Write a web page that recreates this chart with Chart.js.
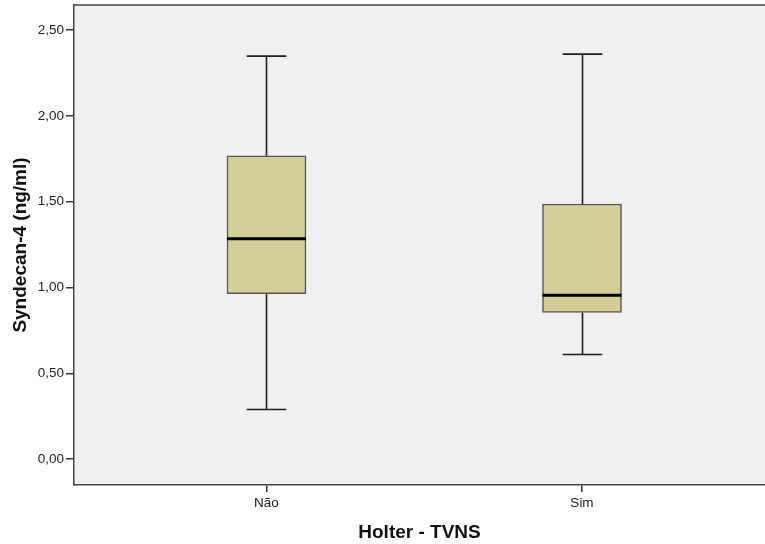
<!DOCTYPE html>
<html>
<head>
<meta charset="utf-8">
<script src="https://cdn.jsdelivr.net/npm/chart.js@4"></script>
<style>
  html, body { margin: 0; padding: 0; background: #ffffff; }
  #c { display: block; }
</style>
</head>
<body>
<canvas id="c" width="765" height="544"></canvas>
<script>
// ---- data ----
const categories = ['Não', 'Sim'];
const minVals    = [0.29, 0.61];
const q1Vals     = [0.965, 0.855];
const medianVals = [1.285, 0.955];
const q3Vals     = [1.768, 1.487];
const maxVals    = [2.348, 2.36];
const yTickVals  = [0, 0.5, 1, 1.5, 2, 2.5];
const xTitle = 'Holter - TVNS';
const yTitle = 'Syndecan-4 (ng/ml)';

const fontFam = "'Liberation Sans', Arial, sans-serif";

const boxPlugin = {
  id: 'boxExtras',
  beforeDraw(chart) {
    const { ctx, chartArea: a } = chart;
    ctx.save();
    ctx.fillStyle = '#f0f0f0';
    ctx.fillRect(a.left, a.top, a.right - a.left, a.bottom - a.top);
    ctx.restore();
  },
  beforeDatasetsDraw(chart) {
    const { ctx } = chart;
    const y = chart.scales.y;
    const meta = chart.getDatasetMeta(0);
    ctx.save();
    ctx.strokeStyle = '#1e1e1e';
    ctx.lineWidth = 1.6;
    meta.data.forEach((bar, i) => {
      const x = Math.round(bar.x) + 0.5;
      const cap = bar.width / 2;
      const yMax = y.getPixelForValue(maxVals[i]);
      const yQ3 = y.getPixelForValue(q3Vals[i]);
      const yQ1 = y.getPixelForValue(q1Vals[i]);
      const yMin = y.getPixelForValue(minVals[i]);
      ctx.beginPath();
      ctx.moveTo(x, yQ3); ctx.lineTo(x, yMax);
      ctx.moveTo(x - cap / 2, yMax); ctx.lineTo(x + cap / 2, yMax);
      ctx.moveTo(x, yQ1); ctx.lineTo(x, yMin);
      ctx.moveTo(x - cap / 2, yMin); ctx.lineTo(x + cap / 2, yMin);
      ctx.stroke();
    });
    ctx.restore();
  },
  afterDatasetsDraw(chart) {
    const { ctx, chartArea: a } = chart;
    const y = chart.scales.y;
    const meta = chart.getDatasetMeta(0);
    ctx.save();
    ctx.strokeStyle = '#000000';
    ctx.lineWidth = 3;
    meta.data.forEach((bar, i) => {
      const ym = y.getPixelForValue(medianVals[i]);
      ctx.beginPath();
      ctx.moveTo(bar.x - bar.width / 2, ym);
      ctx.lineTo(bar.x + bar.width / 2, ym);
      ctx.stroke();
    });
    // top frame line
    ctx.strokeStyle = '#444444';
    ctx.lineWidth = 1.5;
    ctx.beginPath();
    ctx.moveTo(a.left, a.top);
    ctx.lineTo(a.right, a.top);
    ctx.stroke();
    ctx.restore();
  }
};

new Chart(document.getElementById('c'), {
  type: 'bar',
  data: {
    datasets: [{
      data: categories.map((c, i) => ({ x: i + 1, y: [q1Vals[i], q3Vals[i]] })),
      backgroundColor: '#d3ce98',
      borderColor: '#555555',
      borderWidth: 1.5,
      borderSkipped: false,
      barThickness: 79
    }]
  },
  options: {
    responsive: false,
    devicePixelRatio: 1,
    animation: false,
    layout: { padding: { top: 5, right: 0, left: 0, bottom: 0 } },
    plugins: { legend: { display: false }, tooltip: { enabled: false } },
    scales: {
      x: {
        type: 'linear',
        offset: false,
        min: 0.39,
        max: 2.58,
        afterBuildTicks(scale) { scale.ticks = categories.map((c, i) => ({ value: i + 1 })); },
        afterFit(scale) { scale.height = 59; scale.paddingLeft = 0; scale.paddingRight = 0; },
        ticks: {
          callback: (v) => categories[v - 1] !== undefined ? categories[v - 1] : '',
          color: '#222222',
          font: { family: fontFam, size: 13.5 },
          padding: 3,
          maxRotation: 0,
          autoSkip: false
        },
        grid: { offset: false, drawOnChartArea: false, drawTicks: true, tickLength: 7, color: '#333333', lineWidth: 1.5 },
        border: { display: true, color: '#444444', width: 1.5 },
        title: {
          display: true,
          text: xTitle,
          color: '#111111',
          font: { family: fontFam, size: 19, weight: 'bold', lineHeight: 1.2 },
          padding: { top: 0, bottom: 0 }
        }
      },
      y: {
        min: -0.15,
        max: 2.646,
        afterBuildTicks(scale) { scale.ticks = yTickVals.map(v => ({ value: v })); },
        afterFit(scale) { scale.width = 74; scale.paddingTop = 0; scale.paddingBottom = 0; },
        ticks: {
          callback: (v) => Number(v).toFixed(2).replace('.', ','),
          color: '#222222',
          font: { family: fontFam, size: 13.5 },
          padding: 2
        },
        grid: { drawOnChartArea: false, drawTicks: true, tickLength: 8, color: '#333333', lineWidth: 1.5 },
        border: { display: true, color: '#444444', width: 1.5 },
        title: {
          display: true,
          text: yTitle,
          color: '#111111',
          font: { family: fontFam, size: 19, weight: 'bold', lineHeight: 1.2 },
          padding: { top: 9, bottom: 0 }
        }
      }
    }
  },
  plugins: [boxPlugin]
});
</script>
</body>
</html>
